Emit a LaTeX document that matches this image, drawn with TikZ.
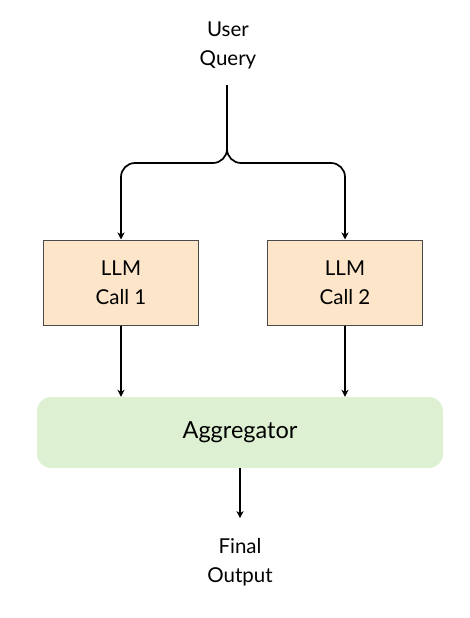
\documentclass[tikz,border=0pt]{standalone}
\usepackage{fontspec}
\setmainfont{Lato}
\usetikzlibrary{arrows.meta}
\definecolor{callfill}{HTML}{FCE5C9}
\definecolor{callborder}{HTML}{4A4A4A}
\definecolor{aggfill}{HTML}{DDF1D2}
\tikzset{
  callbox/.style={draw=callborder, line width=1pt, fill=callfill, minimum width=155pt, minimum height=85pt, align=center, font=\fontsize{20.5}{29}\selectfont, inner sep=0pt},
  aggbox/.style={fill=aggfill, rounded corners=14pt, minimum width=406pt, minimum height=71pt, font=\fontsize{23.5}{26}\selectfont, inner sep=0pt},
  plain/.style={align=center, font=\fontsize{20.5}{29}\selectfont, inner sep=0pt},
  conn/.style={line width=1.7pt, -{Stealth[length=7pt,width=7pt,inset=2pt]}},
}
\begin{document}
\begin{tikzpicture}[x=1pt,y=-1pt]
\useasboundingbox (0,0) rectangle (470,618);
\node[plain] (query) at (228,45) {User\\Query};
\coordinate (qbot) at (227,85);
\coordinate (split) at (227,163);
\node[callbox] (c1) at (121,282.5) {LLM\\Call 1};
\node[callbox] (c2) at (345,282.5) {LLM\\Call 2};
\node[aggbox] (agg) at (240,432.5) {Aggregator};
\node[plain] (out) at (240,562) {Final\\Output};
\draw[conn, rounded corners=14pt] (qbot) -- (split) -- (split -| c1) -- (c1.north);
\draw[conn, rounded corners=14pt] (qbot) -- (split) -- (split -| c2) -- (c2.north);
\draw[conn] (c1.south) -- (c1.south |- agg.north);
\draw[conn] (c2.south) -- (c2.south |- agg.north);
\draw[conn] (agg.south) -- ++(0,50) coordinate (outtop);
\end{tikzpicture}
\end{document}
